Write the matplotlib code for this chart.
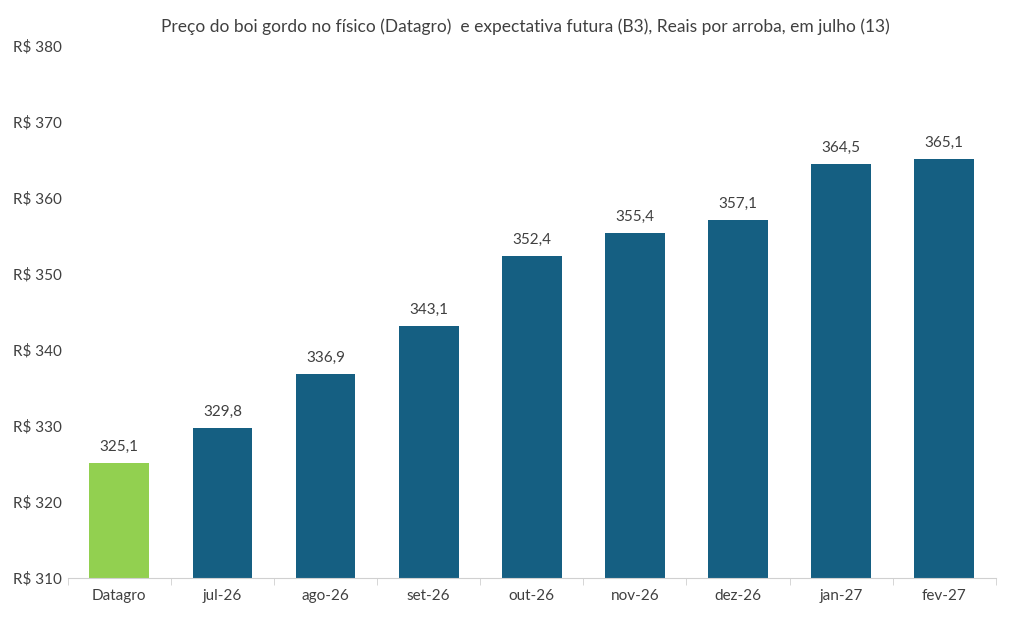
import matplotlib.pyplot as plt
import numpy as np

plt.rcParams['font.family'] = ['Lato', 'DejaVu Sans']

categories = ["Datagro", "jul-26", "ago-26", "set-26", "out-26", "nov-26", "dez-26", "jan-27", "fev-27"]
values = [325.1, 329.8, 336.9, 343.1, 352.4, 355.4, 357.1, 364.5, 365.1]
yticks = [310, 320, 330, 340, 350, 360, 370, 380]

text_color = "#404040"
blue = "#155F82"
green = "#92D050"

fig = plt.figure(figsize=(10.11, 6.29), dpi=100)
ax = fig.add_axes([0.067, 0.081, 0.918, 0.846])

x = np.arange(len(categories))
colors = [green] + [blue] * (len(categories) - 1)
ax.bar(x, values, width=0.58, color=colors, bottom=0)
ax.set_ylim(310, 380)
ax.set_xlim(-0.5, len(categories) - 0.5)

# value labels above bars
for xi, v in zip(x, values):
    ax.text(xi, v + 1.2, f"{v:.1f}".replace(".", ","), ha="center", va="bottom",
            fontsize=11, color=text_color)

ax.set_yticks(yticks)
ax.set_yticklabels([f"R$ {t}" for t in yticks], fontsize=11, color=text_color)
ax.tick_params(axis="y", length=0, pad=4)

ax.set_xticks(x)
ax.set_xticklabels(categories, fontsize=11, color=text_color)
ax.tick_params(axis="x", length=0, pad=8)
ax.set_xticks(np.arange(-0.5, len(categories), 1), minor=True)
ax.tick_params(axis="x", which="minor", length=5, color="#d0d0d0")

for s in ["top", "right", "left"]:
    ax.spines[s].set_visible(False)
ax.spines["bottom"].set_color("#d0d0d0")

fig.text(0.52, 0.958, "Preço do boi gordo no físico (Datagro)  e expectativa futura (B3), Reais por arroba, em julho (13)",
         ha="center", va="center", fontsize=12.5, color=text_color)

fig.savefig("out.png", dpi=100)
